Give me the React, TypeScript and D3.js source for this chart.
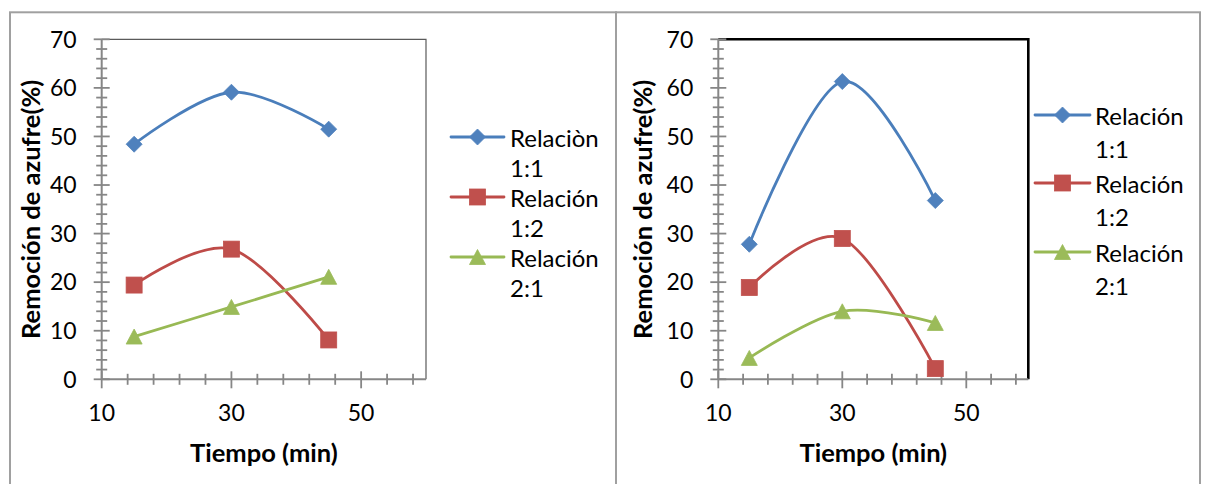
import React from "react";
import * as d3 from "d3";

// ---------- data ----------
const times = [15, 30, 45];

const leftRel11 = [48.4, 59.1, 51.5];
const leftRel12 = [19.4, 26.8, 8.1];
const leftRel21 = [8.8, 14.9, 21.1];

const rightRel11 = [27.8, 61.3, 36.8];
const rightRel12 = [18.9, 29.0, 2.2];
const rightRel21 = [4.4, 14.0, 11.6];

const leftNames = [["Relaciòn", "1:1"], ["Relación", "1:2"], ["Relación", "2:1"]];
const rightNames = [["Relación", "1:1"], ["Relación", "1:2"], ["Relación", "2:1"]];

const xTickLabels = [10, 30, 50];
const yTickLabels = [0, 10, 20, 30, 40, 50, 60, 70];

const yTitle = "Remoción de azufre(%)";
const xTitle = "Tiempo (min)";

const colors = ["#4A7EBB", "#BE4B48", "#98B954"];
const markerColors = ["#4F81BD", "#C0504D", "#9BBB59"];
const shapes = ["diamond", "square", "triangle"];

const FONT = "Lato, 'Open Sans', sans-serif";

type PanelCfg = {
  series: number[][];
  names: string[][];
  x0: number;
  x1: number;
  box: [number, number];
  frameColor: string;
  frameWidth: number;
  legendLine: [number, number];
  legendText: number;
  legendRows: number[];
  legendGap: number;
  yTitleX: number;
};

const panels: PanelCfg[] = [
  {
    series: [leftRel11, leftRel12, leftRel21],
    names: leftNames,
    x0: 101.7,
    x1: 426,
    box: [10, 616],
    frameColor: "#5a5a5a",
    frameWidth: 1.2,
    legendLine: [451, 504],
    legendText: 510,
    legendRows: [137, 197, 257],
    legendGap: 30,
    yTitleX: 31,
  },
  {
    series: [rightRel11, rightRel12, rightRel21],
    names: rightNames,
    x0: 718.3,
    x1: 1028.3,
    box: [616, 1200],
    frameColor: "#000000",
    frameWidth: 2.6,
    legendLine: [1035, 1090],
    legendText: 1095,
    legendRows: [115, 183, 252],
    legendGap: 33,
    yTitleX: 643,
  },
];

const Y0 = 379.3;
const Y1 = 39.3;
const AXIS = "#868686";
const TICK_FS = 23;
const LEG_FS = 24;
const TITLE_FS = 25.5;

function Marker({ shape, cx, cy, color }: { shape: string; cx: number; cy: number; color: string }) {
  if (shape === "diamond") {
    const r = 8;
    return <path d={`M${cx},${cy - r}L${cx + r},${cy}L${cx},${cy + r}L${cx - r},${cy}Z`} fill={color} stroke={color} strokeWidth={0.8} />;
  }
  if (shape === "square") {
    const s = 8;
    return <rect x={cx - s} y={cy - s} width={2 * s} height={2 * s} fill={color} stroke={color} strokeWidth={0.8} />;
  }
  const w = 8, h = 7.5;
  return <path d={`M${cx},${cy - h}L${cx + w},${cy + h}L${cx - w},${cy + h}Z`} fill={color} stroke={color} strokeWidth={0.8} />;
}

function Panel({ cfg }: { cfg: PanelCfg }) {
  const x = d3.scaleLinear().domain([10, 60]).range([cfg.x0, cfg.x1]);
  const y = d3.scaleLinear().domain([0, 70]).range([Y0, Y1]);
  const line = d3
    .line<number>()
    .x((_, i) => x(times[i]))
    .y((d) => y(d))
    .curve(d3.curveCardinal.tension(0));

  const xMinor = d3.range(14, 59, 4).filter((v) => !xTickLabels.includes(v));
  const yMinor = d3.range(0, 71, 2).filter((v) => v % 10 !== 0);
  const [bx0, bx1] = cfg.box;
  const cx = (cfg.x0 + cfg.x1) / 2;
  const cy = (Y0 + Y1) / 2;

  return (
    <g>
      <rect x={bx0} y={12.3} width={bx1 - bx0} height={520} fill="none" stroke="#a0a0a0" strokeWidth={2} />
      {/* plot frame top & right */}
      <path d={`M${cfg.x0},${Y1}H${cfg.x1}V${Y0}`} fill="none" stroke={cfg.frameColor} strokeWidth={cfg.frameWidth} />
      {/* axes */}
      <line x1={cfg.x0} x2={cfg.x0} y1={Y1} y2={Y0} stroke={AXIS} strokeWidth={2} />
      <line x1={cfg.x0} x2={cfg.x1} y1={Y0} y2={Y0} stroke={AXIS} strokeWidth={2} />
      {yMinor.map((v) => (
        <line key={"ym" + v} x1={cfg.x0 - 5.5} x2={cfg.x0 + 5.5} y1={y(v)} y2={y(v)} stroke={AXIS} strokeWidth={1.8} />
      ))}
      {yTickLabels.map((v) => (
        <line key={"yM" + v} x1={cfg.x0 - 8} x2={cfg.x0 + 8} y1={y(v)} y2={y(v)} stroke={AXIS} strokeWidth={1.8} />
      ))}
      {xMinor.map((v) => (
        <line key={"xm" + v} x1={x(v)} x2={x(v)} y1={Y0 - 5.5} y2={Y0 + 5.5} stroke={AXIS} strokeWidth={1.8} />
      ))}
      {xTickLabels.map((v) => (
        <line key={"xM" + v} x1={x(v)} x2={x(v)} y1={Y0 - 8} y2={Y0 + 9} stroke={AXIS} strokeWidth={1.8} />
      ))}
      {yTickLabels.map((v) => (
        <text key={"yl" + v} x={cfg.x0 - 25} y={y(v)} dy="0.36em" textAnchor="end" fontSize={TICK_FS} fontFamily={FONT} fill="#000">
          {v}
        </text>
      ))}
      {xTickLabels.map((v) => (
        <text key={"xl" + v} x={x(v)} y={413} dy="0.36em" textAnchor="middle" fontSize={TICK_FS} fontFamily={FONT} fill="#000">
          {v}
        </text>
      ))}
      <text x={cx} y={453} dy="0.36em" textAnchor="middle" fontSize={TITLE_FS} fontWeight="bold" fontFamily={FONT} fill="#000">
        {xTitle}
      </text>
      <text
        transform={`translate(${cfg.yTitleX},${cy}) rotate(-90)`}
        dy="0.36em"
        textAnchor="middle"
        fontSize={TITLE_FS}
        fontWeight="bold"
        fontFamily={FONT}
        fill="#000"
      >
        {yTitle}
      </text>
      {/* series */}
      {cfg.series.map((s, i) => (
        <path key={"s" + i} d={line(s) || ""} fill="none" stroke={colors[i]} strokeWidth={2.8} strokeLinecap="round" />
      ))}
      {cfg.series.map((s, i) =>
        s.map((v, j) => <Marker key={`m${i}-${j}`} shape={shapes[i]} cx={x(times[j])} cy={y(v)} color={markerColors[i]} />)
      )}
      {/* legend */}
      {cfg.names.map((nm, i) => {
        const ly = cfg.legendRows[i];
        const [lx0, lx1] = cfg.legendLine;
        return (
          <g key={"lg" + i}>
            <line x1={lx0} x2={lx1} y1={ly} y2={ly} stroke={colors[i]} strokeWidth={2.8} strokeLinecap="round" />
            <Marker shape={shapes[i]} cx={(lx0 + lx1) / 2} cy={ly} color={markerColors[i]} />
            <text x={cfg.legendText} y={ly + 1} dy="0.36em" fontSize={LEG_FS} fontFamily={FONT} fill="#000">
              {nm[0]}
            </text>
            <text x={cfg.legendText} y={ly + 1 + cfg.legendGap} dy="0.36em" fontSize={LEG_FS} fontFamily={FONT} fill="#000">
              {nm[1]}
            </text>
          </g>
        );
      })}
    </g>
  );
}

export default function App() {
  return (
    <svg
      width={1207}
      height={484}
      viewBox="0 0 1207 484"
      style={{ position: "absolute", left: 0, top: 0, background: "#fff" }}
    >
      <rect x={0} y={0} width={1207} height={484} fill="#fff" />
      {panels.map((p, i) => (
        <Panel key={i} cfg={p} />
      ))}
    </svg>
  );
}
